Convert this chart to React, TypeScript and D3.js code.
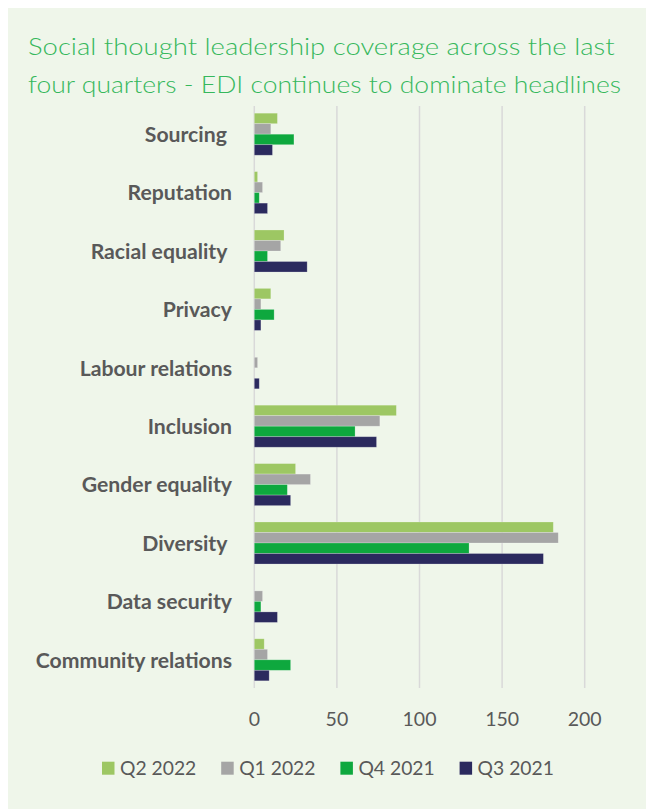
import React from "react";
import * as d3 from "d3";

const categories = [
  "Sourcing ",
  "Reputation",
  "Racial equality ",
  "Privacy",
  "Labour relations",
  "Inclusion",
  "Gender equality",
  "Diversity ",
  "Data security",
  "Community relations",
];
const seriesNames = ["Q2 2022", "Q1 2022", "Q4 2021", "Q3 2021"];
const q2_2022 = [14, 2, 18, 10, 0, 86, 25, 181, 0, 6];
const q1_2022 = [10, 5, 16, 4, 2, 76, 34, 184, 5, 8];
const q4_2021 = [24, 3, 8, 12, 0, 61, 20, 130, 4, 22];
const q3_2021 = [11, 8, 32, 4, 3, 74, 22, 175, 14, 9];
const seriesValues = [q2_2022, q1_2022, q4_2021, q3_2021];
const seriesColors = ["#9DC763", "#A5A5A5", "#0EA83E", "#2B2A5E"];
const xTicks = [0, 50, 100, 150, 200];
const titleLines = [
  "Social thought leadership coverage across the last",
  "four quarters - EDI continues to dominate headlines",
];

const W = 646;
const H = 801;

export default function App() {
  const plotLeft = 246.3;
  const plotRight = 576.7;
  const plotTop = 97;
  const plotBottom = 681;

  const x = d3.scaleLinear().domain([0, 200]).range([plotLeft, plotRight]);
  const y = d3
    .scaleBand<string>()
    .domain(categories)
    .range([plotTop, plotBottom])
    .paddingInner(0.28)
    .paddingOuter(0.14);
  const inner = d3
    .scaleBand<string>()
    .domain(seriesNames)
    .range([0, y.bandwidth()]);

  const labelFont = "Lato, 'Open Sans', sans-serif";

  return (
    <svg width={W} height={H} style={{ display: "block" }}>
      <rect x={0} y={0} width={W} height={H} fill="#EFF6EA" />
      {titleLines.map((t, i) => (
        <text
          key={i}
          x={20}
          y={47 + i * 38.3}
          fill="#36B85C"
          fontFamily={labelFont}
          fontWeight={300}
          fontSize={23.5}
          textLength={i === 0 ? 586.6 : 593}
          lengthAdjust="spacingAndGlyphs"
        >
          {t}
        </text>
      ))}
      {xTicks.map((t) => (
        <line
          key={t}
          x1={x(t)}
          x2={x(t)}
          y1={plotTop + 1}
          y2={plotBottom - 1}
          stroke="#D9D9D9"
          strokeWidth={1.5}
        />
      ))}
      {seriesNames.map((s, si) =>
        categories.map((c, ci) => {
          const v = seriesValues[si][ci];
          if (!v) return null;
          return (
            <rect
              key={s + c}
              x={x(0)}
              y={(y(c) as number) + (inner(s) as number)}
              width={x(v) - x(0)}
              height={inner.bandwidth()}
              fill={seriesColors[si]}
              stroke="#ffffff"
              strokeOpacity={0.3}
              strokeWidth={0.75}
            />
          );
        })
      )}
      {categories.map((c) => (
        <text
          key={c}
          x={224}
          y={(y(c) as number) + y.bandwidth() / 2 + 7.8}
          textAnchor="end"
          fill="#595959"
          fontFamily={labelFont}
          fontWeight={700}
          fontSize={21.2}
          style={{ whiteSpace: "pre" }}
        >
          {c}
        </text>
      ))}
      {xTicks.map((t) => (
        <text
          key={t}
          x={x(t)}
          y={717.7}
          textAnchor="middle"
          fill="#595959"
          fontFamily={labelFont}
          fontSize={19.5}
        >
          {t}
        </text>
      ))}
      {seriesNames.map((s, i) => {
        const lx = 94 + i * 119.2;
        return (
          <g key={s}>
            <rect x={lx} y={753.7} width={12.5} height={13} fill={seriesColors[i]} />
            <text
              x={lx + 18}
              y={767}
              fill="#595959"
              fontFamily={labelFont}
              fontSize={19.3}
            >
              {s}
            </text>
          </g>
        );
      })}
    </svg>
  );
}
